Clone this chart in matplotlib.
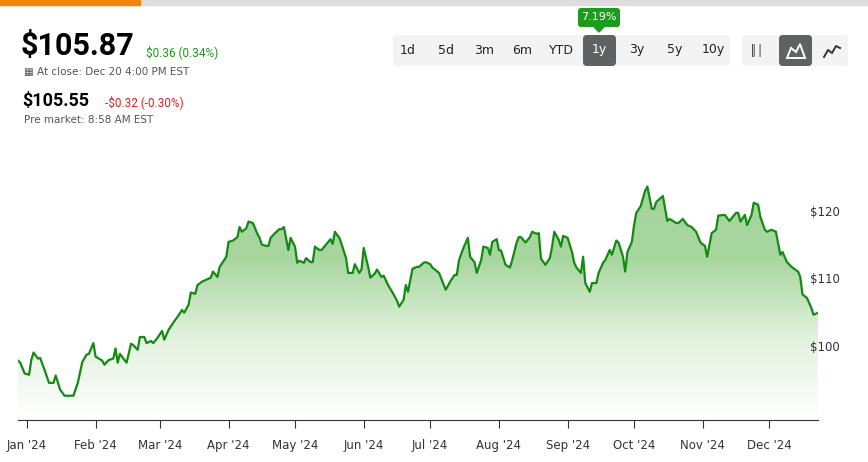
import numpy as np
import matplotlib.pyplot as plt
import matplotlib.dates as mdates
from matplotlib.patches import FancyBboxPatch, Rectangle, Polygon
from matplotlib.colors import LinearSegmentedColormap

# day offsets from 2024-01-01 and closing prices
days = [-4, -3, -1, 1, 2, 3, 5, 6, 8, 10,
        12, 13, 15, 17, 19, 21, 23, 25, 27, 28,
        30, 31, 34, 35, 37, 39, 40, 41, 42, 44,
        45, 47, 48, 50, 51, 53, 54, 56, 57, 59,
        61, 62, 64, 66, 68, 70, 71, 73, 74, 76,
        77, 79, 81, 83, 84, 86, 87, 89, 90, 91,
        93, 95, 96, 97, 99, 100, 102, 104, 105, 106,
        108, 109, 110, 112, 114, 115, 116, 118, 119, 121,
        122, 123, 125, 126, 128, 129, 130, 132, 133, 135,
        137, 138, 139, 141, 142, 144, 145, 147, 148, 150,
        151, 152, 154, 155, 157, 158, 160, 161, 163, 165,
        167, 168, 170, 171, 172, 174, 176, 177, 179, 180,
        182, 183,
        186, 189, 191, 193, 194, 195, 197, 199, 200, 202,
        203, 205, 206, 208, 209, 210, 212, 213, 214, 216,
        218, 219, 221, 222, 223, 225, 227, 228, 230, 231,
        232, 234, 236, 237, 238, 240, 241, 242, 244, 246,
        247, 248, 250, 251, 252, 254, 255, 257, 258, 260,
        261, 263, 264, 266, 267, 269, 270, 271, 273, 274,
        275, 277, 279, 280, 282, 283, 284, 287, 289, 290,
        293, 294, 296, 298, 300, 302, 304, 306, 307, 309,
        311, 312, 315, 317, 320, 321, 322, 324, 325, 327,
        328, 330, 331, 333, 334, 336, 338, 340, 341, 343,
        345, 348, 349, 350, 352, 354, 355, 357]

prices = [97.8, 97.5, 95.9, 95.7, 97.9, 99.0, 98.1, 98.2, 96.4, 94.5,
          94.5, 95.6, 93.5, 92.6, 92.6, 92.6, 94.5, 97.6, 98.7, 98.8,
          100.4, 98.4, 97.8, 97.2, 97.9, 98.1, 99.6, 97.5, 98.8, 97.9,
          97.5, 100.3, 100.1, 99.4, 101.3, 101.3, 100.4, 100.7, 100.4, 101.2,
          102.2, 100.9, 102.4, 103.4, 104.3, 105.3, 104.9, 106.1, 107.9, 107.7,
          109.0, 109.5, 109.8, 110.1, 111.0, 110.2, 111.7, 112.7, 113.2, 115.4,
          115.6, 116.1, 117.6, 116.9, 117.4, 118.4, 118.2, 116.6, 116.0, 115.0,
          114.8, 114.8, 116.0, 116.7, 117.3, 117.3, 117.6, 114.2, 116.0, 114.7,
          112.3, 112.6, 112.3, 113.0, 112.4, 112.4, 114.7, 114.2, 114.2, 115.0,
          115.8, 115.1, 116.9, 116.0, 115.1, 113.0, 110.8, 110.8, 112.1, 110.8,
          111.3, 114.5, 111.7, 110.1, 110.7, 111.3, 110.2, 110.4, 109.0, 107.9,
          106.7, 105.8, 106.8, 109.0, 108.0, 111.4, 111.7, 111.7, 112.3, 112.4,
          112.1, 111.6,
          110.8, 108.3, 109.5, 110.5, 110.5, 112.7, 114.5, 116.0, 113.2, 112.4,
          110.8, 112.7, 114.7, 114.5, 113.5, 115.4, 115.8, 114.2, 114.1, 112.0,
          111.6, 112.7, 115.3, 116.1, 116.1, 115.3, 116.1, 116.9, 116.6, 116.7,
          112.9, 112.0, 113.0, 114.7, 116.9, 115.7, 114.7, 116.3, 116.0, 113.9,
          112.3, 111.6, 110.8, 113.2, 109.3, 108.0, 109.3, 109.3, 110.8, 112.3,
          112.7, 114.2, 113.5, 115.6, 115.3, 113.2, 111.0, 113.9, 115.4, 117.9,
          119.7, 120.7, 123.0, 123.6, 120.3, 120.3, 121.3, 122.2, 118.5, 118.8,
          118.2, 118.2, 118.8, 117.9, 117.6, 116.9, 115.3, 114.8, 113.2, 116.7,
          117.2, 119.3, 119.4, 118.5, 119.7, 119.7, 118.4, 119.4, 117.9, 119.4,
          121.2, 120.9, 119.1, 117.2, 116.9, 117.2, 116.9, 113.5, 113.9, 112.4,
          111.7, 111.0, 110.2, 107.6, 107.1, 105.6, 104.6, 104.9]

volumes = [12, 11, 12, 13, 16, 16, 14, 12, 15, 13,
           12, 12, 13, 14, 13, 15, 14, 12, 12, 13,
           15, 13, 12, 11, 14, 14, 13, 15, 13, 12,
           14, 13, 12, 11, 14, 13, 12, 13, 14, 14,
           14, 12, 12, 12, 13, 16, 13, 12, 35, 12,
           12, 12, 11, 11, 10, 11, 10, 13, 11, 12,
           13, 12, 12, 14, 11, 12, 12, 14, 11, 12,
           12, 11, 14, 12, 11, 10, 11, 13, 20, 17,
           20, 21, 24, 23, 18, 15, 12, 11, 12, 12,
           13, 12, 11, 10, 12, 11, 11, 10, 11, 10,
           11, 22, 15, 15, 12, 11, 12, 11, 11, 12,
           11, 16, 12, 12, 45, 12, 12, 12, 12, 15,
           10, 10,
           11, 11, 10, 11, 11, 12, 12, 11, 13, 10,
           11, 12, 14, 10, 10, 11, 12, 16, 13, 13,
           12, 11, 12, 11, 13, 11, 12, 11, 10, 12,
           11, 10, 12, 11, 11, 13, 12, 14, 12, 18,
           17, 14, 10, 11, 11, 12, 32, 13, 11, 12,
           14, 13, 12, 11, 19, 14, 13, 14, 11, 12,
           10, 9, 8, 9, 14, 9, 10, 9, 8, 8,
           9, 10, 11, 14, 16, 17, 15, 13, 11, 17,
           11, 11, 11, 12, 14, 13, 12, 11, 13, 11,
           14, 13, 11, 22, 13, 12, 9, 10, 12, 14,
           13, 14, 17, 27, 11, 14, 15, 17, 35][:len(days)]

start = np.datetime64('2024-01-01')
dates = start + np.array(days).astype('timedelta64[D]')

fig = plt.figure(figsize=(8.68, 4.62), dpi=100)
fig.patch.set_facecolor('white')

# header widgets drawn in figure pixel coords
W, H = 868, 462
hdr = fig.add_axes([0, 0, 1, 1])
hdr.set_xlim(0, W)
hdr.set_ylim(H, 0)
hdr.axis('off')
hdr.add_patch(Rectangle((0, 0), W, 5, color='#dddddd'))
hdr.add_patch(Rectangle((0, 0), 140, 5, color='#f5820d'))
hdr.text(21, 46, '$105.87', fontsize=22, fontweight='bold', va='center', family='Roboto')
hdr.text(146, 52, '$0.36 (0.34%)', fontsize=8.5, color='#1a9a1a', va='center', family='Roboto')
hdr.text(24, 72, '\u25a6 At close: Dec 20 4:00 PM EST', fontsize=7.5, color='#555555', va='center')
hdr.text(22, 101, '$105.55', fontsize=13, fontweight='bold', va='center', family='Roboto')
hdr.text(105, 102, '-$0.32 (-0.30%)', fontsize=8.5, color='#e02020', va='center', family='Roboto')
hdr.text(24, 120, 'Pre market: 8:58 AM EST', fontsize=7.5, color='#555555', va='center')

hdr.add_patch(FancyBboxPatch((393, 35), 337, 31, boxstyle='round,pad=0,rounding_size=4',
                             fc='#f3f3f3', ec='none'))
hdr.add_patch(FancyBboxPatch((583, 35), 33, 31, boxstyle='round,pad=0,rounding_size=4',
                             fc='#5f6163', ec='none'))
periods = ['1d', '5d', '3m', '6m', 'YTD', '1y', '3y', '5y', '10y']
pos = [408, 446, 484, 522, 561, 599, 637, 675, 713]
for p, x in zip(periods, pos):
    hdr.text(x, 50, p, fontsize=9, ha='center', va='center',
             color='white' if p == '1y' else '#222222')
hdr.add_patch(FancyBboxPatch((578, 8), 42, 19, boxstyle='round,pad=0,rounding_size=3',
                             fc='#1e9a1e', ec='none'))
hdr.add_patch(Polygon([[594, 27], [604, 27], [599, 32]], color='#1e9a1e'))
hdr.text(599, 17.5, '7.19%', fontsize=8, color='white', ha='center', va='center')
hdr.add_patch(FancyBboxPatch((742, 35), 106, 31, boxstyle='round,pad=0,rounding_size=4',
                             fc='#f3f3f3', ec='none'))
hdr.add_patch(FancyBboxPatch((779, 35), 33, 31, boxstyle='round,pad=0,rounding_size=4',
                             fc='#5f6163', ec='none'))
hdr.text(757, 50, '\u2551\u2502', fontsize=8, ha='center', va='center', color='#333333')
hdr.add_patch(Polygon([[787, 58], [791, 48], [796, 52], [800, 44], [805, 58]],
                      fc='none', ec='white', lw=1.4))
hdr.plot([824, 828, 832, 836, 840], [57, 50, 53, 46, 48], color='#333333', lw=1.4)

# price chart
ax = fig.add_axes([18 / W, 1 - 420 / H, 800 / W, 280 / H])
ymin, ymax = 89.0, 130.5
ax.set_ylim(ymin, ymax)
ax.set_xlim(dates[0], dates[-1])
xn = mdates.date2num(dates)
grad = np.linspace(0, 1, 256).reshape(-1, 1)
cmap = LinearSegmentedColormap.from_list('g', ['#ffffff', '#e3f2df', '#a8d69f', '#a3d49b'])
im = ax.imshow(grad, aspect='auto', cmap=cmap, origin='lower',
               extent=[xn[0], xn[-1], ymin, 125], zorder=1)
poly = Polygon(np.column_stack([np.r_[xn[0], xn, xn[-1]], np.r_[ymin, prices, ymin]]),
               closed=True, transform=ax.transData, fc='none', ec='none')
ax.add_patch(poly)
im.set_clip_path(poly)
ax.plot(dates, prices, color='#138a13', lw=1.6, zorder=3)

vax = ax.twinx()
vax.set_ylim(0, 45 * 6.2)
cols = ['#1e8c1e' if i > 0 and prices[i] >= prices[i - 1] else '#ee1c1c' for i in range(len(volumes))]
vax.bar(dates[:len(volumes)], volumes, width=1.6, color=cols, zorder=2)
vax.axis('off')

for s in ['top', 'left', 'right']:
    ax.spines[s].set_visible(False)
ax.spines['bottom'].set_color('#333333')
ax.yaxis.tick_right()
ax.yaxis.set_label_position('right')
ax.set_yticks([100, 110, 120])
ax.set_yticklabels(['$100', '$110', '$120'])
ax.tick_params(axis='y', which='both', left=False, right=False, labelleft=False,
               labelright=True, length=0, pad=-6, labelsize=8.5, labelcolor='#333333')
ax.xaxis.set_major_locator(mdates.MonthLocator())
ax.xaxis.set_major_formatter(mdates.DateFormatter("%b '%y"))
ax.tick_params(axis='x', length=6, color='#333333', labelsize=8.5, labelcolor='#333333', pad=8)
ax.set_zorder(2)

fig.savefig('out.png', dpi=100)
